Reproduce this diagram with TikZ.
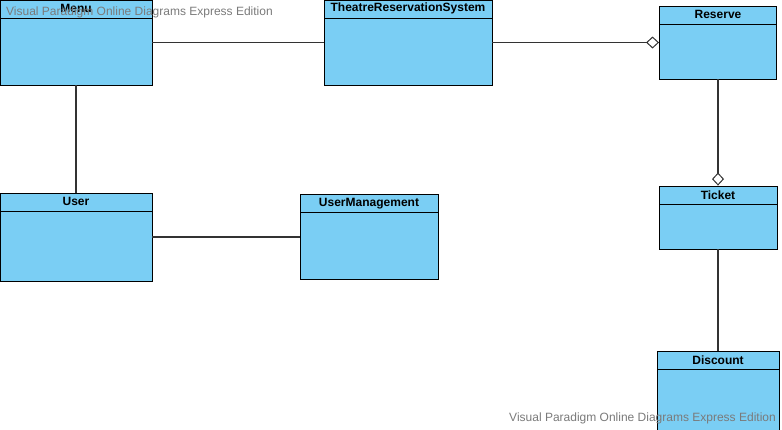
\documentclass[tikz,border=0pt]{standalone}
\usepackage{fontspec}
\setmainfont{Liberation Sans}
\usetikzlibrary{arrows.meta}
\definecolor{classblue}{HTML}{7ACEF4}
\definecolor{linkgray}{HTML}{333333}
\definecolor{markgray}{HTML}{7A7A7A}
\begin{document}
\begin{tikzpicture}[x=1pt,y=-1pt,%
classbox/.style={rectangle, draw=black, fill=classblue, line width=0.9pt,
inner sep=0pt, path picture={\draw[line width=0.9pt]
([yshift=-18pt]path picture bounding box.north west) --
([yshift=-18pt]path picture bounding box.north east);}},
classname/.style={anchor=north, inner sep=0pt, minimum height=18pt,
font=\fontsize{12}{14}\selectfont\bfseries},
link/.style={draw=linkgray, line width=1.3pt},
aggr/.style={link, -{Diamond[open, length=13pt, width=12pt, fill=white, line width=1pt]}},
watermark/.style={inner sep=0pt, text=markgray, font=\fontsize{12}{14}\selectfont}]
\useasboundingbox (0,0) rectangle (782,429);
\node (menu) at (76,42.5) [classbox, minimum width=152pt, minimum height=85pt] {};
\node (trs) at (408,42.5) [classbox, minimum width=168pt, minimum height=85pt] {};
\node (reserve) at (718,42.5) [classbox, minimum width=117pt, minimum height=73pt] {};
\node (user) at (76,237) [classbox, minimum width=152pt, minimum height=88pt] {};
\node (usermgmt) at (369,237) [classbox, minimum width=138pt, minimum height=85pt] {};
\node (ticket) at (718,217.5) [classbox, minimum width=118pt, minimum height=63pt] {};
\node (discount) at (718,395.5) [classbox, minimum width=122pt, minimum height=89pt] {};
\node (menuT) at (menu.north) [classname] {Menu};
\node (trsT) at (trs.north) [classname] {TheatreReservationSystem};
\node (reserveT) at (reserve.north) [classname] {Reserve};
\node (userT) at (user.north) [classname] {User};
\node (usermgmtT) at (usermgmt.north) [classname] {UserManagement};
\node (ticketT) at (ticket.north) [classname] {Ticket};
\node (discountT) at (discount.north) [classname] {Discount};
\draw[link] (menu.east) -- (trs.west);
\draw[aggr] (trs.east) -- (reserve.west);
\draw[link] (menu.south) -- (user.north);
\draw[link] (user.east) -- (usermgmt.west);
\draw[aggr] (reserve.south) -- (ticket.north);
\draw[link] (ticket.south) -- (discount.north);
\node (markTop) at (6,12) [watermark, anchor=west] {Visual Paradigm Online Diagrams Express Edition};
\node (markBottom) at (776,418) [watermark, anchor=east] {Visual Paradigm Online Diagrams Express Edition};
\end{tikzpicture}
\end{document}
